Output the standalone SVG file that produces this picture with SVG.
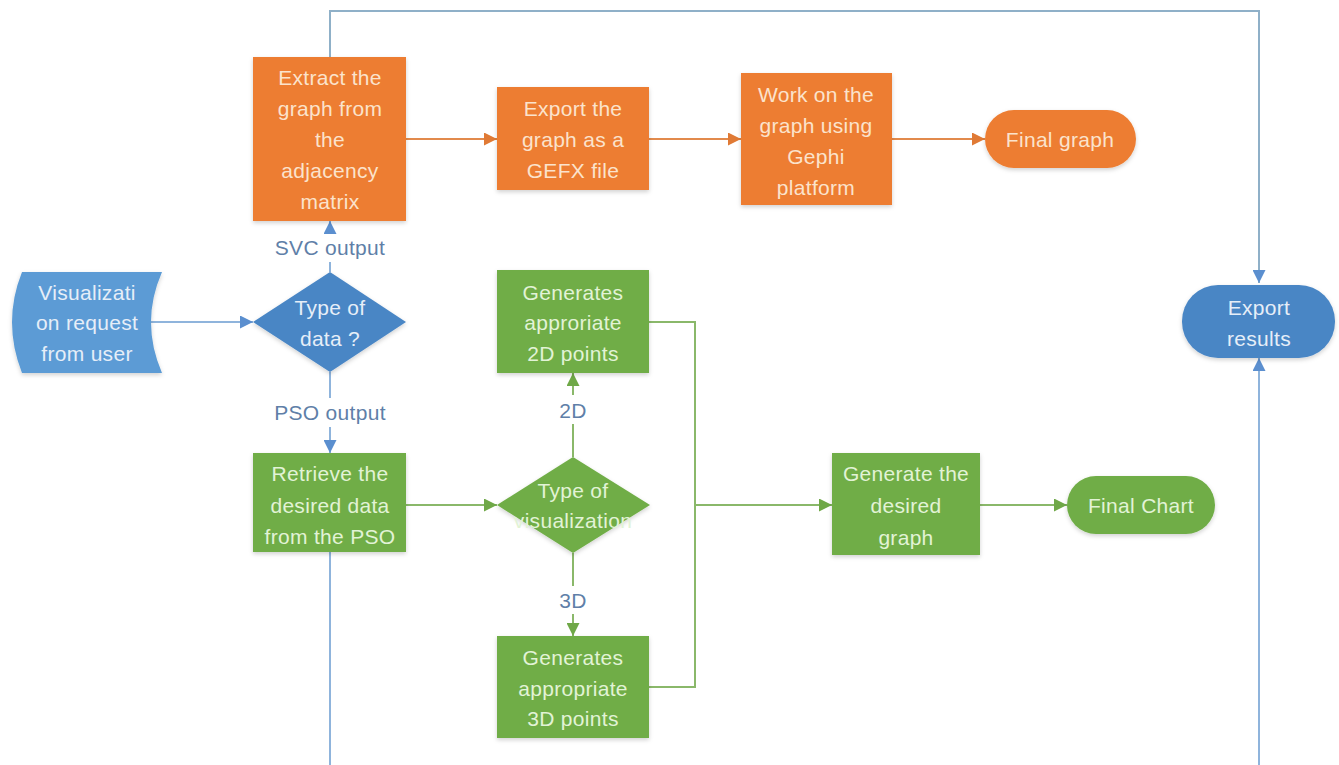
<svg xmlns="http://www.w3.org/2000/svg" width="1339" height="765" viewBox="0 0 1339 765">
  <defs>
    <filter id="soft" x="-10%" y="-10%" width="120%" height="130%">
      <feDropShadow dx="0" dy="2" stdDeviation="2" flood-color="#000" flood-opacity="0.18"/>
    </filter>
    <marker id="arrBlue" viewBox="0 0 10 10" refX="10" refY="5" markerWidth="13" markerHeight="13" markerUnits="userSpaceOnUse" orient="auto">
      <path d="M0,0 L10,5 L0,10 z" fill="#5b8fcf"/>
    </marker>
    <marker id="arrOrange" viewBox="0 0 10 10" refX="10" refY="5" markerWidth="13" markerHeight="13" markerUnits="userSpaceOnUse" orient="auto">
      <path d="M0,0 L10,5 L0,10 z" fill="#e07a35"/>
    </marker>
    <marker id="arrGreen" viewBox="0 0 10 10" refX="10" refY="5" markerWidth="13" markerHeight="13" markerUnits="userSpaceOnUse" orient="auto">
      <path d="M0,0 L10,5 L0,10 z" fill="#6fa847"/>
    </marker>
  </defs>
  <style>
    text { font-family: "Liberation Sans", Arial, sans-serif; font-size: 21px; text-anchor: middle; dominant-baseline: central; letter-spacing: 0.3px; }
    .orange { fill: #ed7d31; filter: url(#soft); }
    .green { fill: #70ad47; filter: url(#soft); }
    .blue { fill: #5b9bd5; filter: url(#soft); }
    .dblue { fill: #4a86c5; filter: url(#soft); }
    .tOrange { fill: #fbe3cc; }
    .tGreen { fill: #e2f3d6; }
    .tBlue { fill: #e6eef8; }
    .lbl { fill: #5f7fa8; }
    .cBlue { stroke: #8fb4dc; stroke-width: 2; fill: none; }
    .cTop { stroke: #8fb0c8; stroke-width: 2; fill: none; }
    .cOrange { stroke: #e28a4c; stroke-width: 2; fill: none; }
    .cGreen { stroke: #8ab86a; stroke-width: 2; fill: none; }
  </style>

  <rect width="1339" height="765" fill="#ffffff"/>

  <!-- connectors -->
  <g id="connectors">
    <path class="cTop" d="M330,57 V11 H1259 V283" marker-end="url(#arrBlue)"/>
    <path class="cBlue" d="M330,552 V765"/>
    <path class="cBlue" d="M1259,765 V358" marker-end="url(#arrBlue)"/>
    <path class="cBlue" d="M150,322 H253" marker-end="url(#arrBlue)"/>
    <path class="cBlue" d="M330,272 V262"/>
    <path class="cBlue" d="M330,232 V221" marker-end="url(#arrBlue)"/>
    <path class="cBlue" d="M330,372 V398"/>
    <path class="cBlue" d="M330,427 V453" marker-end="url(#arrBlue)"/>
    <path class="cOrange" d="M406,139 H497" marker-end="url(#arrOrange)"/>
    <path class="cOrange" d="M649,139 H741" marker-end="url(#arrOrange)"/>
    <path class="cOrange" d="M892,139 H985" marker-end="url(#arrOrange)"/>
    <path class="cGreen" d="M406,505 H497" marker-end="url(#arrGreen)"/>
    <path class="cGreen" d="M573,457 V424"/>
    <path class="cGreen" d="M573,395 V373" marker-end="url(#arrGreen)"/>
    <path class="cGreen" d="M573,553 V586"/>
    <path class="cGreen" d="M573,614 V636" marker-end="url(#arrGreen)"/>
    <path class="cGreen" d="M649,322 H695 V687 H649"/>
    <path class="cGreen" d="M695,505 H832" marker-end="url(#arrGreen)"/>
    <path class="cGreen" d="M980,505 H1067" marker-end="url(#arrGreen)"/>
    <text class="lbl" x="330" y="247">SVC output</text>
    <text class="lbl" x="330" y="412">PSO output</text>
    <text class="lbl" x="573" y="410">2D</text>
    <text class="lbl" x="573" y="600">3D</text>
  </g>

  <!-- nodes -->
  <g id="extract">
    <rect class="orange" x="253" y="57" width="153" height="164"/>
    <text class="tOrange" x="330" y="77">Extract the</text>
    <text class="tOrange" x="330" y="108">graph from</text>
    <text class="tOrange" x="330" y="139">the</text>
    <text class="tOrange" x="330" y="170">adjacency</text>
    <text class="tOrange" x="330" y="201">matrix</text>
  </g>

  <g id="export-gefx">
    <rect class="orange" x="497" y="87" width="152" height="103"/>
    <text class="tOrange" x="573" y="108">Export the</text>
    <text class="tOrange" x="573" y="139">graph as a</text>
    <text class="tOrange" x="573" y="170">GEFX file</text>
  </g>

  <g id="gephi">
    <rect class="orange" x="741" y="73" width="151" height="132"/>
    <text class="tOrange" x="816" y="94">Work on the</text>
    <text class="tOrange" x="816" y="125">graph using</text>
    <text class="tOrange" x="816" y="156">Gephi</text>
    <text class="tOrange" x="816" y="187">platform</text>
  </g>

  <g id="final-graph">
    <rect class="orange" x="985" y="110" width="151" height="58" rx="29" ry="29"/>
    <text class="tOrange" x="1060" y="139">Final graph</text>
  </g>

  <g id="export-results">
    <rect class="dblue" x="1182" y="285" width="153" height="73" rx="36" ry="36"/>
    <text class="tBlue" x="1259" y="307">Export</text>
    <text class="tBlue" x="1259" y="338">results</text>
  </g>

  <g id="request">
    <path class="blue" d="M22,272 H162 Q140,322 162,373 H22 Q2,322 22,272 Z"/>
    <text class="tBlue" x="87" y="292">Visualizati</text>
    <text class="tBlue" x="87" y="322">on request</text>
    <text class="tBlue" x="87" y="353">from user</text>
  </g>

  <g id="data-type">
    <polygon class="dblue" points="330,272 406,322 330,372 253,322"/>
    <text class="tBlue" x="330" y="307">Type of</text>
    <text class="tBlue" x="330" y="338">data ?</text>
  </g>

  <g id="retrieve">
    <rect class="green" x="253" y="453" width="153" height="99"/>
    <text class="tGreen" x="330" y="473">Retrieve the</text>
    <text class="tGreen" x="330" y="505">desired data</text>
    <text class="tGreen" x="330" y="536">from the PSO</text>
  </g>

  <g id="vis-type">
    <polygon class="green" points="573,457 650,505 573,553 497,505"/>
    <text class="tGreen" x="573" y="490">Type of</text>
    <text class="tGreen" x="573" y="520">visualization</text>
  </g>

  <g id="points-2d">
    <rect class="green" x="497" y="270" width="152" height="103"/>
    <text class="tGreen" x="573" y="292">Generates</text>
    <text class="tGreen" x="573" y="322">approriate</text>
    <text class="tGreen" x="573" y="353">2D points</text>
  </g>

  <g id="points-3d">
    <rect class="green" x="497" y="636" width="152" height="102"/>
    <text class="tGreen" x="573" y="657">Generates</text>
    <text class="tGreen" x="573" y="688">appropriate</text>
    <text class="tGreen" x="573" y="718">3D points</text>
  </g>

  <g id="generate-graph">
    <rect class="green" x="832" y="453" width="148" height="102"/>
    <text class="tGreen" x="906" y="473">Generate the</text>
    <text class="tGreen" x="906" y="505">desired</text>
    <text class="tGreen" x="906" y="537">graph</text>
  </g>

  <g id="final-chart">
    <rect class="green" x="1067" y="476" width="148" height="58" rx="29" ry="29"/>
    <text class="tGreen" x="1141" y="505">Final Chart</text>
  </g>
</svg>
